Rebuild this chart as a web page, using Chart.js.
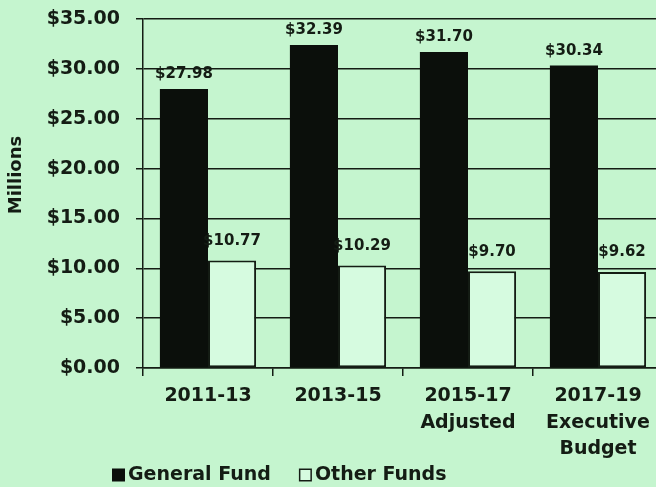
<!DOCTYPE html>
<html>
<head>
<meta charset="utf-8">
<script src="https://cdn.jsdelivr.net/npm/chart.js@4"></script>
<style>
  html,body{margin:0;padding:0;background:#c5f5cf;overflow:hidden;}
  #wrap{position:relative;width:680px;height:487px;}
</style>
</head>
<body>
<div id="wrap"><canvas id="fundsChart"></canvas></div>
<script>
/* Biennial spending by fund source, in millions */
const categories=[['2011-13'],['2013-15'],['2015-17','Adjusted'],['2017-19','Executive','Budget']];
const seriesNames=['General Fund','Other Funds'];
const generalFund=[27.98,32.39,31.70,30.34];
const otherFunds=[10.77,10.29,9.70,9.62];
const yTickMax=35, yTickStep=5;

const INK='#141c14';
const FONT='"DejaVu Sans", sans-serif';
const money=v=>'$'+Number(v).toFixed(2);

// value labels above bars, axis caption and the legend row
const decorations={
  id:'decorations',
  afterDatasetsDraw(chart){
    const ctx=chart.ctx;
    ctx.save();
    ctx.fillStyle=INK;
    ctx.font='bold 15px '+FONT;
    ctx.textAlign='center';
    ctx.textBaseline='bottom';
    const lift=[7,12];
    chart.data.datasets.forEach((ds,i)=>{
      chart.getDatasetMeta(i).data.forEach((bar,j)=>{
        ctx.fillText(money(ds.data[j]),bar.x,bar.y-lift[i]);
      });
    });
    ctx.restore();
  },
  afterDraw(chart){
    const ctx=chart.ctx;
    ctx.save();
    ctx.fillStyle=INK;
    // y axis caption
    ctx.translate(16,175);
    ctx.rotate(-Math.PI/2);
    ctx.font='bold 18px '+FONT;
    ctx.textAlign='center';
    ctx.textBaseline='middle';
    ctx.fillText('Millions',0,0);
    ctx.restore();

    // legend
    ctx.save();
    ctx.font='bold 19px '+FONT;
    ctx.textBaseline='middle';
    let x=112;
    const y=475, box=13;
    chart.data.datasets.forEach((ds,i)=>{
      ctx.fillStyle=ds.backgroundColor;
      ctx.fillRect(x,y-box/2,box,box);
      if(i>0){
        ctx.strokeStyle=INK;ctx.lineWidth=1.5;
        ctx.strokeRect(x+0.75,y-box/2+0.75,box-1.5,box-1.5);
      }
      x+=box+3;
      ctx.fillStyle=INK;
      ctx.fillText(ds.label,x,y);
      x+=ctx.measureText(ds.label).width+28;
    });
    ctx.restore();
  }
};

new Chart(document.getElementById('fundsChart'),{
  type:'bar',
  data:{
    labels:categories,
    datasets:[
      {label:seriesNames[0],data:generalFund,backgroundColor:'#0b0f0b',borderWidth:0,
       categoryPercentage:0.74,barPercentage:1.0},
      {label:seriesNames[1],data:otherFunds,backgroundColor:'#d6fbe0',borderColor:INK,borderWidth:2,
       borderSkipped:false,categoryPercentage:0.74,barPercentage:1.0}
    ]
  },
  options:{
    responsive:true,
    maintainAspectRatio:false,
    animation:false,
    layout:{padding:{top:19,right:17,left:0,bottom:0}},
    plugins:{legend:{display:false},tooltip:{enabled:false}},
    scales:{
      x:{
        grid:{drawOnChartArea:false,drawTicks:true,tickLength:8,offset:true,color:INK,lineWidth:1.5},
        border:{display:true,color:INK,width:1.5},
        ticks:{color:INK,font:{family:FONT,size:19,weight:'bold',lineHeight:1.4},padding:7,maxRotation:0,autoSkip:false},
        afterFit(s){s.height=119;s.paddingLeft=0;s.paddingRight=0;s.paddingTop=0;s.paddingBottom=0;}
      },
      y:{
        min:0,max:yTickMax,
        grid:{color:INK,lineWidth:1.5,tickLength:7},
        border:{display:true,color:INK,width:1.5},
        ticks:{stepSize:yTickStep,color:INK,font:{family:FONT,size:19,weight:'bold'},padding:16,callback:v=>money(v)},
        afterFit(s){s.width=143;s.paddingTop=0;s.paddingBottom=0;s.paddingLeft=0;s.paddingRight=0;}
      }
    }
  },
  plugins:[decorations]
});
</script>
</body>
</html>
